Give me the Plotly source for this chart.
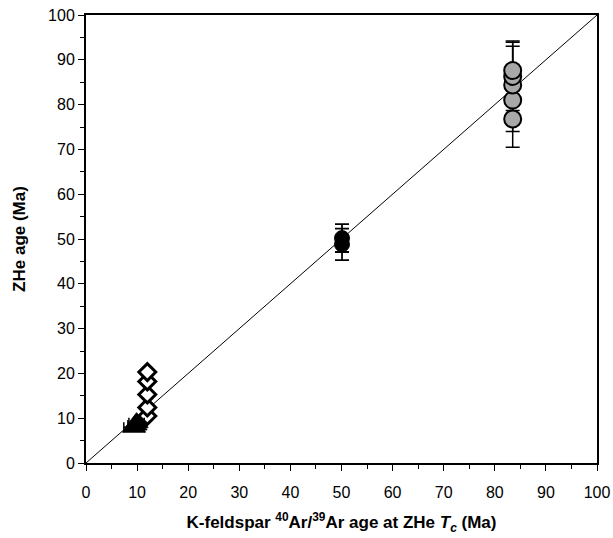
import plotly.graph_objects as go

# Grey circles (pattern-filled) at ~83.5 Ma
grey_x = [83.5, 83.5, 83.5, 83.5, 83.5]
grey_y = [76.8, 81.0, 84.4, 86.3, 87.6]
grey_err = [6.3, 7.0, 8.6, 7.6, 6.6]

# Black circles at ~50 Ma
black_x = [50.1, 50.1]
black_y = [48.8, 50.2]
black_err = [3.5, 3.1]

# Open diamonds at ~12 Ma
dia_x = [12.0, 12.0, 12.0, 12.0, 12.0]
dia_y = [10.5, 12.4, 15.3, 18.2, 20.3]
dia_err = [1.0, 1.0, 1.0, 1.0, 1.0]

# Black triangles at ~9.5 Ma
tri_x = [9.4, 9.7, 9.9]
tri_y = [8.0, 8.5, 9.0]
tri_xerr = [2.0, 1.5, 1.5]

line_x = [0, 100]
line_y = [0, 100]

xticks = list(range(0, 101, 10))
yticks = list(range(0, 101, 10))

FONT = "Liberation Sans, Arial"

fig = go.Figure()
fig.add_trace(go.Scatter(x=line_x, y=line_y, mode="lines",
                         line=dict(color="black", width=1), hoverinfo="skip"))
fig.add_trace(go.Scatter(
    x=grey_x, y=grey_y, mode="markers",
    marker=dict(symbol="circle", size=17, color="#a8a8a8",
                line=dict(color="black", width=2)),
    error_y=dict(type="data", array=grey_err, color="black", thickness=1.5, width=7)))
fig.add_trace(go.Scatter(
    x=black_x, y=black_y, mode="markers",
    marker=dict(symbol="circle", size=15, color="black",
                line=dict(color="black", width=1)),
    error_y=dict(type="data", array=black_err, color="black", thickness=1.8, width=7)))
fig.add_trace(go.Scatter(
    x=dia_x, y=dia_y, mode="markers",
    marker=dict(symbol="diamond", size=13, color="white",
                line=dict(color="black", width=3)),
    error_y=dict(type="data", array=dia_err, color="black", thickness=1.5, width=5)))
fig.add_trace(go.Scatter(
    x=tri_x, y=tri_y, mode="markers",
    marker=dict(symbol="triangle-up", size=20, color="black",
                line=dict(color="black", width=1)),
    error_x=dict(type="data", array=tri_xerr, color="black", thickness=1.5, width=5)))

axis_common = dict(
    range=[0, 100], showgrid=False, zeroline=False, automargin=False,
    showline=True, linecolor="black", linewidth=2, mirror=True,
    ticks="outside", ticklen=6, tickwidth=1, tickcolor="black",
    minor=dict(dtick=5, ticks="outside", ticklen=4, tickcolor="black"),
    tickfont=dict(family=FONT, size=16, color="black"),
)

fig.update_layout(
    width=613, height=538,
    margin=dict(l=86, r=16, t=15, b=75),
    paper_bgcolor="white", plot_bgcolor="white",
    showlegend=False,
    xaxis=dict(**axis_common, tickvals=xticks, ticklabelstandoff=8,
               title=dict(text="<b>K-feldspar <sup>40</sup>Ar/<sup>39</sup>Ar age at ZHe <i>T<sub>c</sub></i> (Ma)</b>",
                          font=dict(family=FONT, size=17, color="black"),
                          standoff=16)),
    yaxis=dict(**axis_common, tickvals=yticks,
               title=dict(text="<b>ZHe age (Ma)</b>",
                          font=dict(family=FONT, size=17, color="black"),
                          standoff=18)),
)

fig.write_html("out.html", config={"displayModeBar": False},
               post_script="document.body.style.margin='0';document.body.style.overflow='hidden';")
